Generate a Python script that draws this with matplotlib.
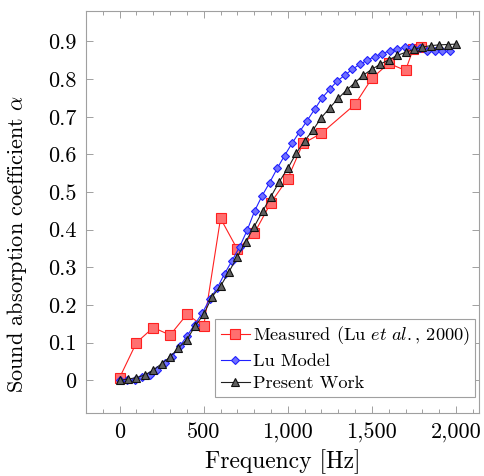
import matplotlib
matplotlib.use("Agg")
import matplotlib.pyplot as plt
from matplotlib.ticker import MultipleLocator, FuncFormatter

# data
meas_f = [0, 100, 200, 300, 400, 500, 600, 700, 800, 900, 1000, 1090,
          1200, 1400, 1500, 1600, 1700, 1745, 1790]
meas_a = [0.007, 0.100, 0.140, 0.120, 0.175, 0.144, 0.430, 0.348, 0.390,
          0.472, 0.536, 0.629, 0.656, 0.733, 0.802, 0.842, 0.823, 0.879, 0.886]

lu_f = [0, 44.6, 89, 134, 178, 223, 268, 312, 357, 401, 446, 491, 535, 580,
        624, 669, 714, 758, 803, 847, 892, 937, 981, 1026, 1070, 1115, 1160,
        1204, 1249, 1294, 1338, 1383, 1427, 1472, 1516, 1561, 1606, 1650,
        1695, 1739, 1784, 1829, 1873, 1918, 1962]
lu_a = [0.0, 0.0, 0.0, 0.009, 0.015, 0.028, 0.045, 0.063, 0.090, 0.118,
        0.148, 0.178, 0.215, 0.245, 0.283, 0.318, 0.355, 0.398, 0.450, 0.490,
        0.525, 0.563, 0.597, 0.630, 0.660, 0.690, 0.720, 0.750, 0.773, 0.795,
        0.810, 0.826, 0.839, 0.850, 0.860, 0.868, 0.875, 0.880, 0.885, 0.885,
        0.882, 0.876, 0.874, 0.874, 0.874]

pw_f = [0, 50, 100, 150, 200, 250, 300, 350, 400, 450, 500, 550, 600, 650,
        700, 750, 800, 850, 900, 950, 1000, 1050, 1100, 1150, 1200, 1250,
        1300, 1350, 1400, 1450, 1500, 1550, 1600, 1650, 1700, 1750, 1800,
        1850, 1900, 1950, 2000]
pw_a = [0.0, 0.003, 0.007, 0.014, 0.027, 0.044, 0.062, 0.086, 0.108, 0.145,
        0.175, 0.222, 0.250, 0.288, 0.328, 0.368, 0.408, 0.449, 0.488, 0.528,
        0.563, 0.603, 0.636, 0.665, 0.698, 0.724, 0.749, 0.771, 0.791, 0.811,
        0.826, 0.840, 0.851, 0.863, 0.871, 0.879, 0.885, 0.889, 0.891, 0.892,
        0.893]

plt.rcParams['font.family'] = 'serif'
plt.rcParams['font.serif'] = ['cmr10']
plt.rcParams['mathtext.fontset'] = 'cm'
plt.rcParams['axes.formatter.use_mathtext'] = True

fig = plt.figure(figsize=(4.84, 4.76), dpi=100)
ax = fig.add_axes([86 / 484, 1 - 413 / 476, (479 - 86) / 484, (413 - 11) / 476])

ax.plot(meas_f, meas_a, color='#ff2020', lw=0.8, marker='s', ms=6.8,
        mfc='#ff7070', mec='#ff2020', mew=0.8,
        label=r'Measured (Lu $\mathit{et\ al.}\mathrm{,}$ 2000)')
ax.plot(lu_f, lu_a, color='#2020ff', lw=0.8, marker='D', ms=3.8,
        mfc='#7070ff', mec='#2020ff', mew=0.8, label='Lu Model')
ax.plot(pw_f, pw_a, color='#202020', lw=0.8, marker='^', ms=5.2,
        mfc='#606060', mec='#101010', mew=0.8, label='Present Work')

ax.set_xlim(-200, 2137)
ax.set_ylim(-0.087, 0.981)

ax.xaxis.set_major_locator(MultipleLocator(500))
ax.xaxis.set_minor_locator(MultipleLocator(100))
ax.yaxis.set_major_locator(MultipleLocator(0.1))
ax.xaxis.set_major_formatter(FuncFormatter(lambda v, p: f'{int(round(v)):,}'))
ax.yaxis.set_major_formatter(FuncFormatter(
    lambda v, p: '0' if abs(v) < 1e-9 else f'{v:.1f}'))

ax.tick_params(which='both', direction='in', top=True, right=True,
               color='#909090', labelsize=16, width=0.6)
ax.tick_params(which='major', length=5, pad=7)
ax.tick_params(which='minor', length=3)
for s in ax.spines.values():
    s.set_color('#a0a0a0')
    s.set_linewidth(0.8)

ax.set_xlabel('Frequency [Hz]', fontsize=17, labelpad=5)
ax.set_ylabel(r'Sound absorption coefficient $\alpha$', fontsize=16)
ax.yaxis.set_label_coords(-0.145, 0.42)

leg = ax.legend(loc='lower right', bbox_to_anchor=(0.99, 0.04),
                fontsize=13.2, handlelength=1.6, handletextpad=0.15,
                borderpad=0.3, labelspacing=0.35, fancybox=False,
                framealpha=1, borderaxespad=0)
leg.get_frame().set_edgecolor('#a0a0a0')
leg.get_frame().set_linewidth(0.8)

fig.savefig('out.png', dpi=100)
